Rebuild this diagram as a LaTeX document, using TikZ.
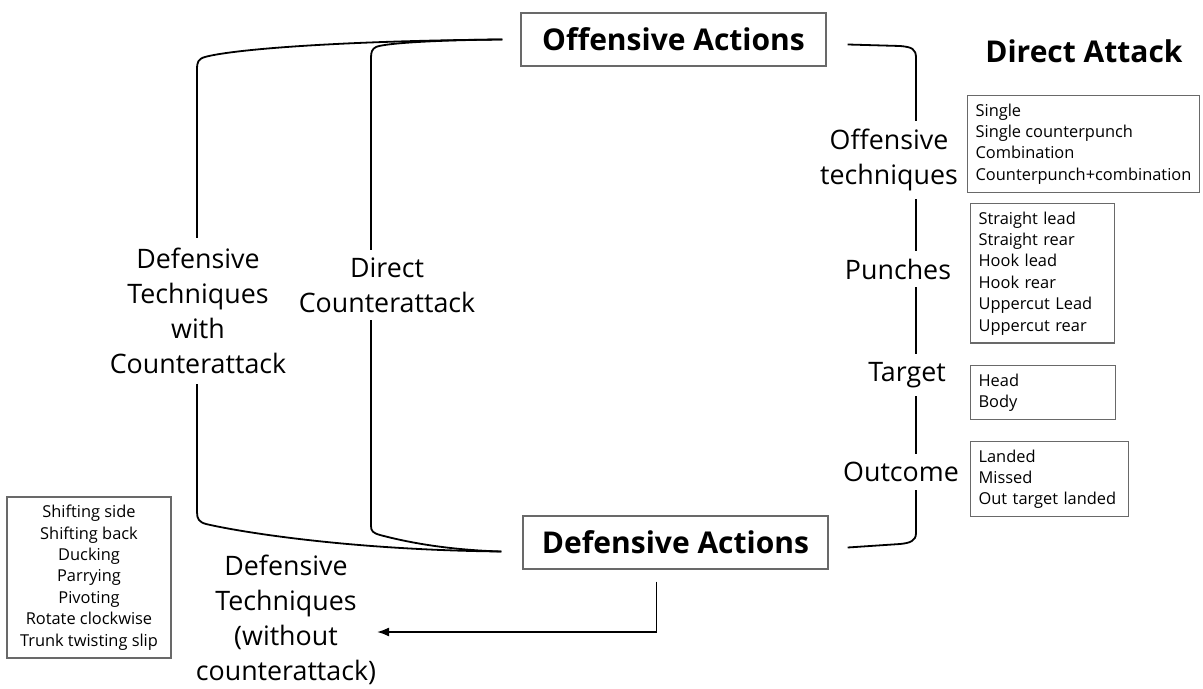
\documentclass[tikz,border=0pt]{standalone}
\usepackage{fontspec}
\setmainfont{Open Sans}
\usepackage{tikz}
\usetikzlibrary{arrows.meta,positioning,calc,backgrounds}
\definecolor{bGray}{RGB}{105,105,105}

\begin{document}
\begin{tikzpicture}[
    x=0.5pt, y=-0.5pt,
    headbox/.style={draw=bGray, line width=0.7pt, font=\fontsize{15}{18}\selectfont\bfseries,
      minimum width=152.5pt, minimum height=26.5pt, inner sep=0pt},
    tag/.style={font=\fontsize{13.4}{17.5}\selectfont, align=center, fill=white,
      inner xsep=1pt, inner ysep=4pt},
    listbox/.style={draw=bGray, line width=0.6pt, font=\fontsize{8.2}{10.7}\selectfont,
      align=left, anchor=north west, inner xsep=4pt, inner ysep=4pt},
    link/.style={line width=0.9pt},
    arr/.style={line width=0.9pt, -{Latex[length=6pt,width=4.5pt]}}
]
  \useasboundingbox (0,0) rectangle (1203,689);

  % main boxes
  \node[headbox] (off) at (673.5,39.5) {Offensive Actions};
  \node[headbox] (def) at (675.5,542.5) {Defensive Actions};
  \node[font=\fontsize{15}{18}\selectfont\bfseries] (atk) at (1084,51.5) {Direct Attack};

  % right column
  \node[tag] (tech) at (889,160) {Offensive\\techniques};
  \node[tag] (pun) at (898,269) {Punches};
  \node[tag] (tgt) at (907,375) {Target};
  \node[tag] (out) at (901,472) {Outcome};

  \node[listbox] (techl) at (967,95) {Single\\Single counterpunch\\Combination\\Counterpunch+combination};
  \node[listbox, text width=64pt] (punl) at (970,203) {Straight lead\\Straight rear\\Hook lead\\Hook rear\\Uppercut Lead\\Uppercut rear};
  \node[listbox, text width=64.5pt] (tgtl) at (970,365) {Head\\Body};
  \node[listbox, text width=71pt] (outl) at (970,441) {Landed\\Missed\\Out target landed};

  % left side
  \node[tag, inner ysep=5pt] (dwc) at (198,311) {Defensive\\Techniques\\with\\Counterattack};
  \node[tag] (dca) at (387,285) {Direct\\Counterattack};
  \node[tag, fill=none] (nwc) at (286,620) {Defensive\\Techniques\\(without\\counterattack)};
  \node[listbox, anchor=center, align=center, minimum width=82pt] (defl) at (89,577.5)
    {Shifting side\\Shifting back\\Ducking\\Parrying\\Pivoting\\Rotate clockwise\\Trunk twisting slip};
  \coordinate (tip) at (377,632);

  \begin{scope}[on background layer]
    \draw[link] ($(off.west)+(-18,0)$) .. controls (330,41) and (230,50) .. (205,57)
      .. controls (198,59) and (197,62) .. (197,70) -- (197,512)
      .. controls (197,519) and (199,522) .. (206,524)
      .. controls (240,532) and (350,550) .. ($(def.west)+(-21,9)$);
    \draw[link] ($(off.west)+(-18,0)$) .. controls (440,40) and (385,43) .. (376,47)
      .. controls (372,49) and (371,52) .. (371,58) -- (371,526)
      .. controls (371,531) and (373,533) .. (380,535)
      .. controls (410,543) and (450,550) .. ($(def.west)+(-21,9)$);
    \draw[link] ($(off.east)+(21,5)$) -- (900,46) .. controls (912,47) and (916,49) .. (916,58)
      -- (916,533) .. controls (916,541) and (910,543) .. (900,544) -- ($(def.east)+(19,5)$);
  \end{scope}

  \draw[arr] ([xshift=-9.5pt,yshift=-6pt]def.south) |- (tip);
\end{tikzpicture}
\end{document}
